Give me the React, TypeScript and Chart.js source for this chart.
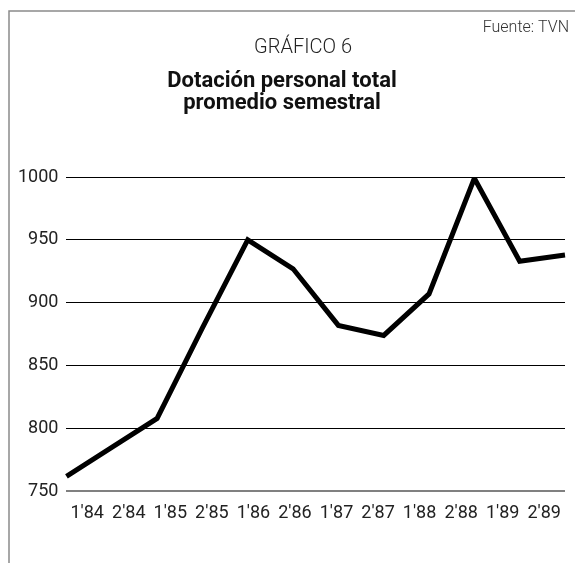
import React, { useEffect, useRef } from "react";
import { Chart, registerables } from "chart.js";

Chart.register(...registerables);

const categories = ["1'84", "2'84", "1'85", "2'85", "1'86", "2'86", "1'87", "2'87", "1'88", "2'88", "1'89", "2'89"];
const dotacion = [762, 785, 808, 880, 950, 927, 882, 874, 907, 999, 933, 938];
const yTicks = [750, 800, 850, 900, 950, 1000];
const titleLine = "GRÁFICO 6";
const subtitleLines = ["Dotación personal total", "promedio semestral"];
const sourceText = "Fuente: TVN";

const FONT = "Roboto, 'DejaVu Sans', sans-serif";

const decorPlugin = {
  id: "decor",
  beforeDraw(chart: any) {
    const { ctx, width, height } = chart;
    ctx.save();
    ctx.fillStyle = "#ffffff";
    ctx.fillRect(0, 0, width, height);
    ctx.strokeStyle = "#8a8a8a";
    ctx.lineWidth = 1.5;
    ctx.beginPath();
    ctx.moveTo(9, height);
    ctx.lineTo(9, 11);
    ctx.lineTo(width, 11);
    ctx.stroke();

    ctx.fillStyle = "#333333";
    ctx.textBaseline = "middle";
    ctx.textAlign = "right";
    ctx.font = `300 16px ${FONT}`;
    ctx.fillText(sourceText, 569, 28);

    ctx.textAlign = "center";
    ctx.fillStyle = "#222222";
    ctx.font = `300 20px ${FONT}`;
    ctx.fillText(titleLine, 303, 48);

    ctx.fillStyle = "#111111";
    ctx.font = `bold 22px ${FONT}`;
    subtitleLines.forEach((l, i) => ctx.fillText(l, 282, 81 + i * 22));
    ctx.restore();
  },
};

export default function App() {
  const ref = useRef<HTMLCanvasElement>(null);
  useEffect(() => {
    document.body.style.margin = "0";
    const chart = new Chart(ref.current!, {
      type: "line",
      data: {
        labels: categories,
        datasets: [
          {
            data: dotacion,
            borderColor: "#000000",
            borderWidth: 5,
            borderJoinStyle: "miter",
            pointRadius: 0,
            tension: 0,
            fill: false,
          },
        ],
      },
      options: {
        animation: false,
        responsive: false,
        layout: { padding: { top: 177, left: 10, right: 10, bottom: 28 } },
        plugins: { legend: { display: false }, title: { display: false }, tooltip: { enabled: false } },
        scales: {
          x: {
            type: "category",
            display: false,
            offset: false,
          },
          x2: {
            type: "category",
            position: "bottom",
            offset: true,
            grid: { display: false, drawTicks: false },
            border: { display: false },
            ticks: { color: "#222", font: { family: FONT, size: 18, weight: "normal" }, padding: 11, maxRotation: 0, autoSkip: false },
          },
          y: {
            min: 750,
            max: 1000,
            afterBuildTicks: (axis: any) => {
              axis.ticks = yTicks.map((v) => ({ value: v }));
            },
            grid: {
              drawTicks: false,
              color: (c: any) => (c.tick && c.tick.value === 750 ? "#808080" : "#000000"),
              lineWidth: (c: any) => (c.tick && c.tick.value === 750 ? 2 : 1),
            },
            border: { display: false },
            ticks: {
              color: "#222",
              font: { family: FONT, size: 18, weight: "normal" },
              padding: 8,
              callback: (v: any) => String(v),
            },
          },
        },
      },
      plugins: [decorPlugin],
    });
    return () => chart.destroy();
  }, []);
  return <canvas ref={ref} width={575} height={563} style={{ display: "block", width: 575, height: 563 }} />;
}
